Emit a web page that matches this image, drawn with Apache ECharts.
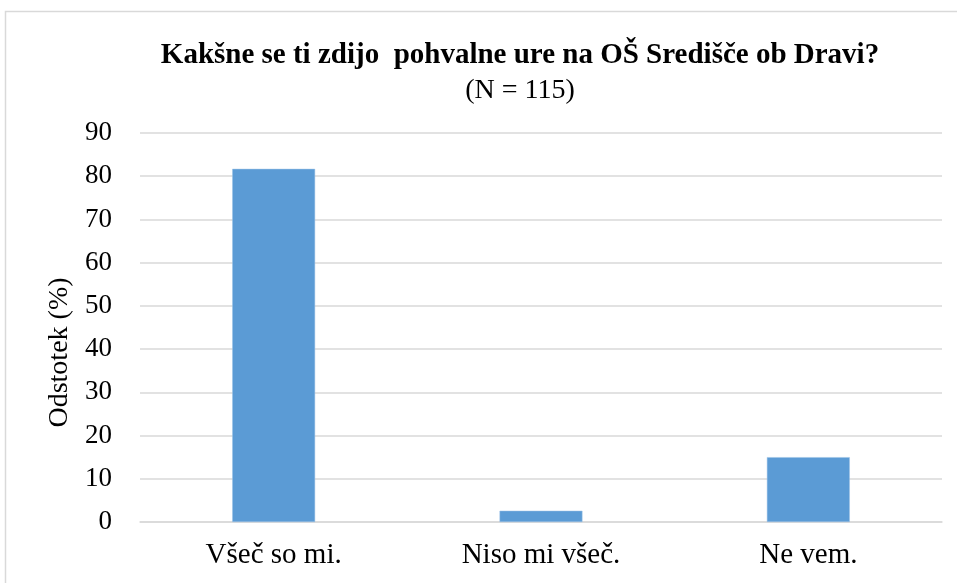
<!DOCTYPE html>
<html><head><meta charset="utf-8">
<script src="https://cdn.jsdelivr.net/npm/echarts@6/dist/echarts.min.js"></script>
<style>html,body{margin:0;padding:0;background:#fff}#c{width:957px;height:583px}</style>
</head><body><div id="c"></div>
<script>
const categories = ['Všeč so mi.', 'Niso mi všeč.', 'Ne vem.'];
const values = [81.7, 2.6, 15.0];
const yTicks = [0, 10, 20, 30, 40, 50, 60, 70, 80, 90];

const chart = echarts.init(document.getElementById('c'), null, {renderer: 'canvas'});
const font = '"Liberation Serif", "Times New Roman", serif';
chart.setOption({
  animation: false,
  backgroundColor: '#fff',
  graphic: [{
    type: 'rect', shape: {x: 5.5, y: 11.5, width: 960, height: 600},
    style: {fill: 'none', stroke: '#d9d9d9', lineWidth: 1.5}, silent: true
  }],
  title: {
    text: 'Kakšne se ti zdijo  pohvalne ure na OŠ Središče ob Dravi?',
    subtext: '(N = 115)',
    left: 515, top: 36, textAlign: 'center', itemGap: 7,
    textStyle: {fontFamily: font, fontWeight: 'bold', fontSize: 29, color: '#000'},
    subtextStyle: {fontFamily: font, fontSize: 28, color: '#000'}
  },
  grid: {left: 140, right: 15, top: 133, bottom: 61, containLabel: false},
  xAxis: {
    type: 'category', data: categories,
    axisLine: {lineStyle: {color: '#d9d9d9', width: 1.5}},
    axisTick: {show: false},
    axisLabel: {fontFamily: font, fontSize: 29, color: '#000', margin: 19}
  },
  yAxis: {
    type: 'value', min: yTicks[0], max: yTicks[yTicks.length - 1], interval: 10,
    name: 'Odstotek (%)', nameLocation: 'middle', nameGap: 60, nameRotate: 90,
    nameTextStyle: {fontFamily: font, fontSize: 28, color: '#000', padding: [0, 50, 0, 0]},
    axisLine: {show: false}, axisTick: {show: false},
    axisLabel: {fontFamily: font, fontSize: 27, color: '#000', margin: 28},
    splitLine: {lineStyle: {color: '#d9d9d9', width: 1.5}}
  },
  series: [{
    type: 'bar', data: values, barWidth: '31%',
    itemStyle: {color: '#5b9bd5', borderColor: '#9dc3e6', borderWidth: 0.5}
  }]
});
</script></body></html>
